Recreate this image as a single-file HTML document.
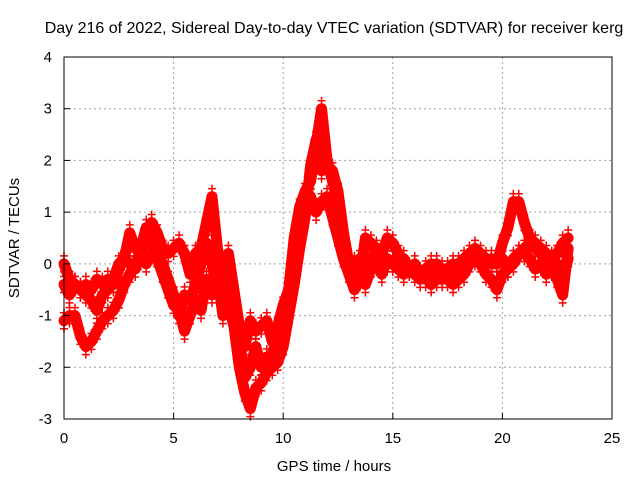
<!DOCTYPE html>
<html><head><meta charset="utf-8"><style>
body{margin:0;background:#fff;}
svg{display:block;font-family:"Liberation Sans",sans-serif;}
</style></head><body>
<svg id="chart" width="640" height="480" viewBox="0 0 640 480">
<rect width="640" height="480" fill="#fff"/>
<text x="334" y="33" font-size="16" text-anchor="middle">Day 216 of 2022, Sidereal Day-to-day VTEC variation (SDTVAR) for receiver kerg</text>
<g id="grid"></g>
<g id="series"></g>
<g id="axes"></g>
<text x="334" y="471" font-size="15" text-anchor="middle">GPS time / hours</text>
<text transform="translate(19,238) rotate(-90)" font-size="15" text-anchor="middle">SDTVAR / TECUs</text>
</svg>
<script>
const xTicks=[0,5,10,15,20,25];
const yTicks=[-3,-2,-1,0,1,2,3,4];
const timeStep=0.25;
const trackA=[0,-0.3,-0.4,-0.5,-0.4,-0.5,-0.3,-0.4,-0.3,-0.4,-0.1,0.1,0.6,0.3,0.2,0.5,0.8,0.6,0.3,0.2,0.3,0.4,0.2,-0.2,0.2,0.3,0.8,1.3,0.3,-0.3,0.2,-0.5,-1.2,-1.6,-1.1,-1.3,-1.2,-1.1,-1.5,-1.2,-0.8,-0.5,0.5,1.1,1.4,1.6,2.3,3.0,2.0,1.6,1.2,0.4,-0.2,-0.5,-0.3,0.5,0.4,0.3,0.2,0.5,0.4,0.2,0.0,-0.1,-0.1,-0.2,-0.1,0.0,-0.1,-0.3,-0.2,-0.1,0.0,0.1,0.2,0.3,0.2,0.1,0.0,0.0,0.4,0.7,1.2,1.2,0.8,0.5,0.4,0.3,0.2,0.1,0.2,0.4,0.5];
const trackB=[-0.4,-0.6,-0.4,-0.5,-0.6,-0.7,-0.9,-0.6,-0.5,-0.3,0.0,0.1,0.0,-0.1,0.3,0.7,0.4,0.2,0.0,-0.3,-0.6,-1.0,-0.6,-0.7,-0.4,0.0,0.4,0.0,-0.5,-0.6,-0.4,-0.9,-1.5,-2.2,-2.0,-1.6,-2.0,-1.8,-1.8,-1.3,-1.2,-0.8,0.0,0.7,1.2,1.3,1.0,1.2,1.3,0.9,0.5,0.1,-0.2,0.0,0.1,0.0,0.1,0.2,0.1,0.0,0.0,-0.1,-0.2,-0.1,0.0,-0.2,-0.3,-0.2,0.0,-0.1,-0.3,-0.4,-0.3,-0.2,0.0,0.1,0.0,-0.2,-0.3,-0.5,-0.2,-0.1,0.1,0.2,0.3,0.4,0.3,0.2,0.0,-0.1,0.0,-0.3,0.1];
const trackC=[-1.1,-1.0,-1.0,-1.4,-1.6,-1.5,-1.3,-1.1,-1.0,-0.9,-0.7,-0.4,-0.2,0.0,0.1,0.0,0.2,0.1,-0.2,-0.5,-0.8,-0.9,-1.3,-1.0,-0.7,-0.9,-0.3,-0.6,-0.2,-1.0,-0.8,-1.2,-2.0,-2.5,-2.8,-2.4,-2.3,-2.1,-2.0,-1.9,-1.6,-1.0,-0.4,0.3,0.9,1.9,2.4,1.8,1.9,1.8,1.4,0.6,0.0,-0.3,-0.2,-0.4,-0.1,0.0,-0.2,0.1,0.0,0.1,0.1,-0.1,-0.2,-0.3,-0.2,-0.4,-0.3,-0.2,-0.1,0.0,-0.2,-0.1,0.1,0.2,0.1,0.0,0.1,0.0,0.1,-0.1,0.0,0.2,0.2,0.1,-0.1,0.0,-0.2,-0.1,-0.3,-0.6,0.3];
const tracks=[trackA,trackB,trackC];

const L=64,R=612,T=57,B=419;
const xMin=0,xMax=25,yMin=-3,yMax=4;
const xs=v=>L+(v-xMin)/(xMax-xMin)*(R-L);
const ys=v=>B-(v-yMin)/(yMax-yMin)*(B-T);
const NS="http://www.w3.org/2000/svg";
function mk(tag,attrs,parent){const e=document.createElementNS(NS,tag);for(const k in attrs)e.setAttribute(k,attrs[k]);parent.appendChild(e);return e;}
const grid=document.getElementById('grid'),axes=document.getElementById('axes'),series=document.getElementById('series');

xTicks.forEach(v=>{
  if(v>xMin&&v<xMax){const g=mk('line',{x1:xs(v),x2:xs(v),y1:T,y2:B,stroke:'#a0a0a0','stroke-dasharray':'2,3'},grid);
  
  }
  const t=mk('line',{x1:xs(v),x2:xs(v),y1:B,y2:B-6,stroke:'#000'},axes);
  
  
  const tl=mk('text',{x:xs(v),y:B+24,'font-size':15,'text-anchor':'middle'},axes);
  tl.textContent=v;
  
  
});
yTicks.forEach(v=>{
  if(v>yMin&&v<yMax){const g=mk('line',{x1:L,x2:R,y1:ys(v),y2:ys(v),stroke:'#a0a0a0','stroke-dasharray':'2,3'},grid);
  
  }
  const t=mk('line',{x1:L,x2:L+6,y1:ys(v),y2:ys(v),stroke:'#000'},axes);
  
  
  const tl=mk('text',{x:L-12,y:ys(v)+5,'font-size':15,'text-anchor':'end'},axes);
  tl.textContent=v;
  
  
});
const frame=mk('rect',{x:L,y:T,width:R-L,height:B-T,fill:'none',stroke:'#000'},axes);



tracks.forEach(tr=>{
  const pts=tr.map((v,i)=>xs(i*timeStep)+','+ys(v)).join(' ');
  const pl=mk('polyline',{points:pts,fill:'none',stroke:'#ff0000','stroke-width':11,'stroke-linejoin':'round','stroke-linecap':'round'},series);
  
  
  tr.forEach((v,i)=>{
    const x=xs(i*timeStep),y=ys(v);
    const p=mk('path',{d:`M${x-4},${y-8}H${x+4}M${x},${y-12}V${y-4}M${x-4},${y+8}H${x+4}M${x},${y+4}V${y+12}`,stroke:'#ff0000','stroke-width':1.5},series);
    
    
  });
});
</script>
</body></html>
